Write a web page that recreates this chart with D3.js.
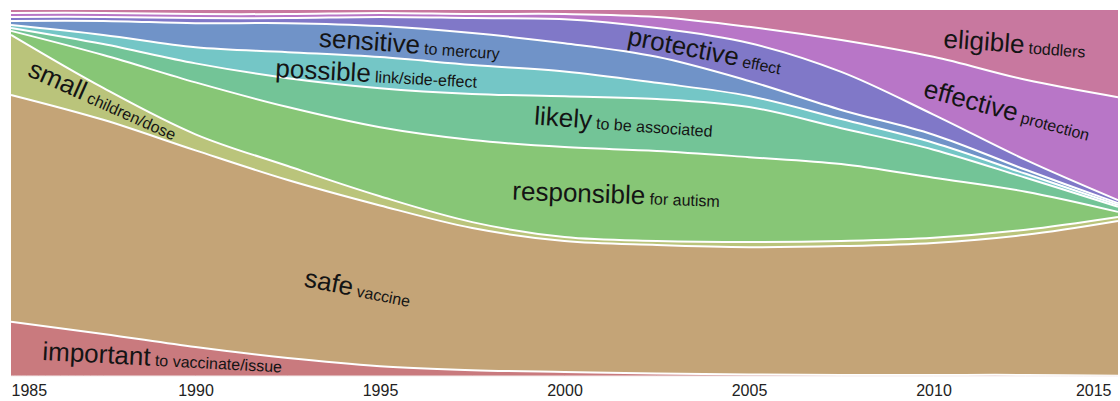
<!DOCTYPE html>
<html>
<head>
<meta charset="utf-8">
<script src="https://cdn.jsdelivr.net/npm/d3@7"></script>
<style>
  html, body { margin: 0; padding: 0; background: #fff; }
  svg { display: block; font-family: "Liberation Sans", Arial, Helvetica, sans-serif; }
</style>
</head>
<body>
<svg id="chart" width="1120" height="401"></svg>
<script>
// ---- data (share of usage, %) ----
const years = [1985, 1987.5, 1990, 1992.5, 1995, 1997.5, 2000, 2002.5, 2005, 2007.5, 2010, 2012.5, 2015];
const tickYears = [1985, 1990, 1995, 2000, 2005, 2010, 2015];

const keys = ["important", "safe", "small", "responsible", "likely", "possible", "sensitive", "protective", "effective", "eligible"];
const important   = [14.8, 11.5, 7.9, 4.9, 2.7, 1.6, 1.1, 0.7, 0.4, 0.3, 0.3, 0.3, 0.1];
const safe        = [62.0, 58.5, 53.8, 48.6, 44.0, 38.8, 35.8, 35.1, 34.8, 35.2, 36.1, 38.3, 42.2];
const small       = [16.4, 8.7, 4.4, 3.8, 2.5, 1.6, 1.1, 1.1, 1.4, 1.4, 1.4, 1.4, 1.1];
const responsible = [1.1, 9.0, 14.2, 16.1, 18.9, 22.4, 24.6, 24.6, 23.2, 21.0, 16.4, 10.4, 1.4];
const likely      = [0.8, 3.0, 5.2, 7.9, 10.7, 12.6, 13.9, 14.2, 13.7, 9.8, 7.7, 3.8, 1.4];
const possible    = [0.8, 2.5, 4.4, 7.1, 8.5, 7.9, 6.8, 4.4, 3.0, 2.5, 1.9, 1.1, 0.5];
const sensitive   = [1.1, 3.8, 6.6, 7.9, 8.5, 8.7, 7.7, 7.1, 4.1, 2.5, 2.2, 1.1, 0.5];
const protective  = [1.1, 1.1, 1.4, 1.4, 2.5, 4.1, 6.6, 7.9, 10.4, 10.4, 5.5, 2.7, 0.8];
const effective   = [1.1, 1.1, 1.1, 1.1, 1.1, 1.1, 1.4, 3.0, 4.4, 8.7, 15.8, 21.9, 28.1];
const eligible    = [0.8, 0.8, 1.1, 1.1, 0.8, 1.1, 1.1, 1.9, 4.6, 8.2, 12.8, 19.1, 23.8];

const bigWords   = ["important", "safe", "small", "responsible", "likely", "possible", "sensitive", "protective", "effective", "eligible"];
const smallWords = ["to vaccinate/issue", "vaccine", "children/dose", "for autism", "to be associated", "link/side-effect", "to mercury", "effect", "protection", "toddlers"];

const colors = ["#c97a7e", "#c4a477", "#bac47b", "#87c676", "#73c497", "#74c6c6", "#7093c8", "#8078c8", "#b876c7", "#c8789f"];

// label layout: centre x (year), vertical nudge (px), rotation (deg)
const labelLayout = {
  important:   { year: 1989.1, dy: -2,  rot: 3 },
  safe:        { year: 1994.4, dy: 6,   rot: 11 },
  small:       { year: 1987.5, dy: -4,  rot: 24 },
  responsible: { year: 2001.4, dy: 0,   rot: 2 },
  likely:      { year: 2001.6, dy: -2,  rot: 4 },
  possible:    { year: 1994.9, dy: 1,   rot: 3 },
  sensitive:   { year: 1995.8, dy: 0,   rot: 4 },
  protective:  { year: 2003.8, dy: -2,  rot: 11 },
  effective:   { year: 2012.0, dy: -3,  rot: 15 },
  eligible:    { year: 2012.2, dy: 0,   rot: 4 }
};

const seriesMap = { important, safe, small, responsible, likely, possible, sensitive, protective, effective, eligible };
const table = years.map((yr, i) => {
  const row = { year: yr };
  keys.forEach(k => row[k] = seriesMap[k][i]);
  return row;
});

// ---- chart ----
const svg = d3.select("#chart");
const x = d3.scaleLinear().domain([1985, 2015]).range([11, 1118]);
const y = d3.scaleLinear().domain([0, 1]).range([376, 10]);

const stack = d3.stack().keys(keys).offset(d3.stackOffsetExpand);
const layers = stack(table);

const curve = d3.curveCatmullRom.alpha(0.5);
const area = d3.area()
  .x(d => x(d.data.year))
  .y0(d => y(d[0]))
  .y1(d => y(d[1]))
  .curve(curve);

svg.append("g").selectAll("path")
  .data(layers)
  .join("path")
  .attr("d", area)
  .attr("fill", (d, i) => colors[i]);

const topLine = d3.line()
  .x(d => x(d.data.year))
  .y(d => y(d[1]))
  .curve(curve);

svg.append("g").selectAll("path")
  .data(layers.slice(0, layers.length - 1))
  .join("path")
  .attr("d", topLine)
  .attr("fill", "none")
  .attr("stroke", "#fff")
  .attr("stroke-width", 2);

// bottom edge line
svg.append("path")
  .attr("d", d3.line().x(d => x(d.data.year)).y(d => y(d[0])).curve(curve)(layers[0]))
  .attr("fill", "none").attr("stroke", "#f3eaea").attr("stroke-width", 1);

// ---- labels ----
function bandAt(layer, yr) {
  const i = Math.max(0, Math.min(years.length - 2, d3.bisectRight(years, yr) - 1));
  const t = (yr - years[i]) / (years[i + 1] - years[i]);
  const lo = layer[i][0] + (layer[i + 1][0] - layer[i][0]) * t;
  const hi = layer[i][1] + (layer[i + 1][1] - layer[i][1]) * t;
  return (lo + hi) / 2;
}

const lbl = svg.append("g").attr("fill", "#141414");
layers.forEach((layer, i) => {
  const k = keys[i];
  const L = labelLayout[k];
  const cx = x(L.year);
  const cy = y(bandAt(layer, L.year)) + L.dy;
  const t = lbl.append("text")
    .attr("text-anchor", "middle")
    .attr("dominant-baseline", "central")
    .attr("transform", `translate(${cx},${cy}) rotate(${L.rot})`);
  t.append("tspan").attr("font-size", 26).text(bigWords[i]);
  t.append("tspan").attr("font-size", 16).attr("dy", 3).text(" " + smallWords[i]);
});

// ---- axis ----
const axis = d3.axisBottom(x)
  .tickValues(tickYears)
  .tickSize(0)
  .tickPadding(0)
  .tickFormat(d3.format("d"));

const gx = svg.append("g").attr("transform", "translate(0,382)").call(axis);
gx.select(".domain").remove();
gx.selectAll("text")
  .attr("font-size", 16)
  .attr("font-family", "'Liberation Sans', Arial, sans-serif")
  .attr("fill", "#222")
  .attr("dy", "0.9em");
gx.selectAll(".tick").filter(d => d === 1985).select("text").attr("text-anchor", "start").attr("x", 0);
gx.selectAll(".tick").filter(d => d === 2015).select("text").attr("text-anchor", "end").attr("x", -7);
</script>
</body>
</html>
